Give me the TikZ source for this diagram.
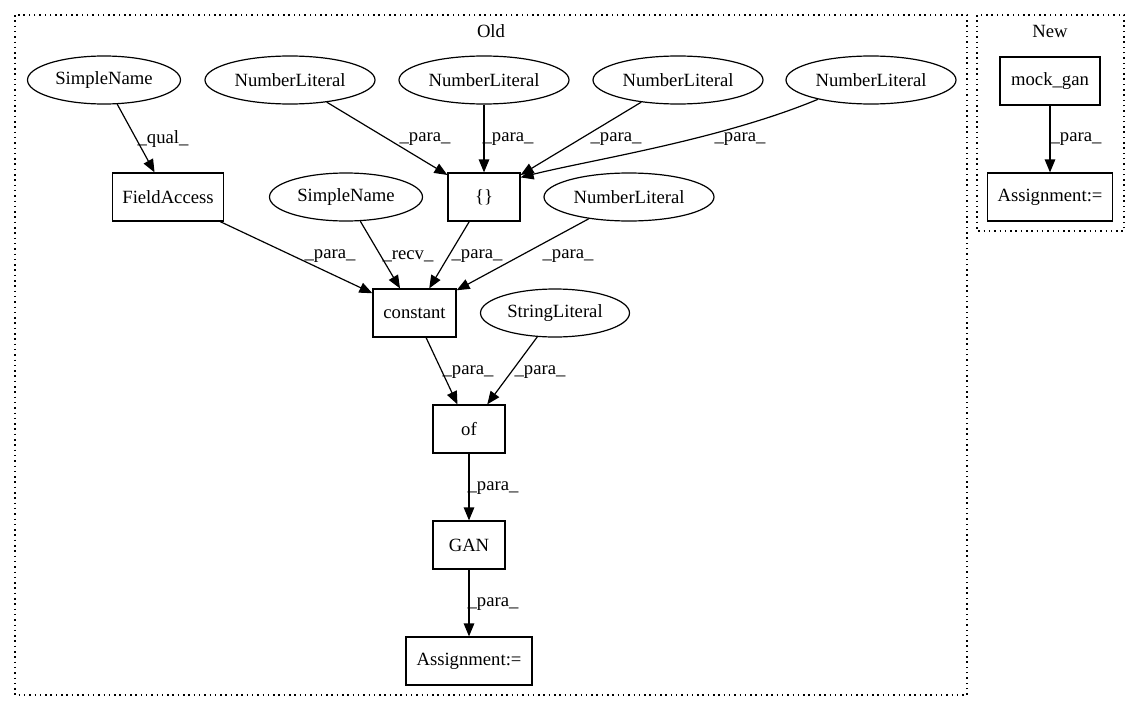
\documentclass[tikz,border=0pt]{standalone}
\usepackage{fontspec}
\setmainfont{Liberation Serif}
\usetikzlibrary{arrows.meta,shapes.geometric}
\begin{document}
\begin{tikzpicture}[x=1pt,y=-1pt,
  every node/.style={font=\fontsize{18.67}{22}\selectfont},
  ell/.style={draw,ellipse,line width=1.2pt,minimum height=48pt,inner sep=0pt},
  bx/.style={draw,rectangle,line width=1.2pt,minimum height=48pt,inner sep=0pt},
  lbl/.style={inner sep=0pt},
  edge/.style={line width=1.2pt,-{Triangle[length=13pt,width=10.5pt]}},
  cluster/.style={line width=1.5pt,dash pattern=on 1.5pt off 3.8pt}]
\useasboundingbox (0,0) rectangle (1140,712);
% clusters
\draw[cluster] (15,15) rectangle (967,695);
\draw[cluster] (977,15) rectangle (1124,231);
\node (oldlbl) at (491,31) {Old};
\node (newlbl) at (1050,31) {New};
% Old nodes
\node[ell,minimum width=153pt] (sn1) at (104,80) {SimpleName};
\node[ell,minimum width=170pt] (nl1) at (290,80) {NumberLiteral};
\node[ell,minimum width=170pt] (nl2) at (484,80) {NumberLiteral};
\node[ell,minimum width=170pt] (nl3) at (678,80) {NumberLiteral};
\node[ell,minimum width=170pt] (nl4) at (871,80) {NumberLiteral};
\node[bx,minimum width=111pt] (fa) at (168,197) {FieldAccess};
\node[ell,minimum width=153pt] (sn2) at (346,197) {SimpleName};
\node[bx,minimum width=72pt] (br) at (484,197) {\{\}};
\node[ell,minimum width=170pt] (nl5) at (629,197) {NumberLiteral};
\node[bx,minimum width=83pt] (const) at (414.5,313) {constant};
\node[ell,minimum width=149pt] (sl) at (555,313) {StringLiteral};
\node[bx,minimum width=72pt] (of) at (469,429) {of};
\node[bx,minimum width=72pt] (gan) at (469,545) {GAN};
\node[bx,minimum width=126pt] (asg) at (469,661) {Assignment:=};
% New nodes
\node[bx,minimum width=100pt] (mock) at (1050,81) {mock\_gan};
\node[bx,minimum width=125pt] (asg2) at (1050,197) {Assignment:=};
% edges
\draw[edge] (sn1) -- (fa);
\draw[edge] (nl1) -- (br);
\draw[edge] (nl2) -- (br);
\draw[edge] (nl3) -- (br);
\draw[edge] (nl4.200) .. controls (720,140) and (590,160) .. ([yshift=-5pt]br.north east);
\draw[edge] (fa) -- (const);
\draw[edge] (sn2) -- (const);
\draw[edge] (br) -- (const);
\draw[edge] (nl5) -- (const);
\draw[edge] (const) -- (of);
\draw[edge] (sl) -- (of);
\draw[edge] (of) -- (gan);
\draw[edge] (gan) -- (asg);
\draw[edge] (mock) -- (asg2);
% edge labels
\node[lbl] (l1) at (163,139) {\_qual\_};
\node[lbl] (l2) at (425,139) {\_para\_};
\node[lbl] (l3) at (508,139) {\_para\_};
\node[lbl] (l4) at (616,139) {\_para\_};
\node[lbl] (l5) at (740,139) {\_para\_};
\node[lbl] (l6) at (330,256) {\_para\_};
\node[lbl] (l7) at (408,256) {\_recv\_};
\node[lbl] (l8) at (477,256) {\_para\_};
\node[lbl] (l9) at (568,256) {\_para\_};
\node[lbl] (l10) at (468,372) {\_para\_};
\node[lbl] (l11) at (540,372) {\_para\_};
\node[lbl] (l12) at (493,488) {\_para\_};
\node[lbl] (l13) at (493,604) {\_para\_};
\node[lbl] (l14) at (1076,139) {\_para\_};
\end{tikzpicture}
\end{document}
